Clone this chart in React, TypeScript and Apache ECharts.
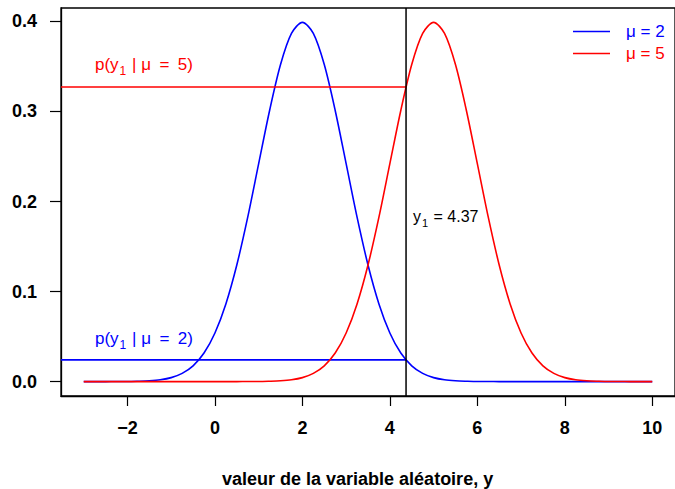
import React, { useEffect, useRef } from "react";
import * as echarts from "echarts";

const FONT = "'Liberation Sans', Arial, Helvetica, sans-serif";

// x positions of the drawn density curves
const xValues = [
  -3, -2.75, -2.5, -2.25, -2, -1.75, -1.5, -1.25, -1, -0.75, -0.5, -0.25,
  0, 0.25, 0.5, 0.75, 1, 1.25, 1.5, 1.75, 2, 2.25, 2.5, 2.75, 3, 3.25, 3.5,
  3.75, 4, 4.25, 4.5, 4.75, 5, 5.25, 5.5, 5.75, 6, 6.25, 6.5, 6.75, 7, 7.25,
  7.5, 7.75, 8, 8.25, 8.5, 8.75, 9, 9.25, 9.5, 9.75, 10,
];

// density for mu = 2 (blue)
const densityMu2 = [
  0, 0, 0, 0.0001, 0.0001, 0.0004, 0.0009, 0.002, 0.0044, 0.0091, 0.0175,
  0.0317, 0.054, 0.0863, 0.1295, 0.1826, 0.242, 0.3011, 0.3521, 0.3867,
  0.3989, 0.3867, 0.3521, 0.3011, 0.242, 0.1826, 0.1295, 0.0863, 0.054,
  0.0317, 0.0175, 0.0091, 0.0044, 0.002, 0.0009, 0.0004, 0.0001, 0.0001,
  0, 0, 0, 0, 0, 0, 0, 0, 0, 0, 0, 0, 0, 0, 0,
];

// density for mu = 5 (red)
const densityMu5 = [
  0, 0, 0, 0, 0, 0, 0, 0, 0, 0, 0, 0, 0, 0, 0, 0.0001, 0.0001, 0.0004,
  0.0009, 0.002, 0.0044, 0.0091, 0.0175, 0.0317, 0.054, 0.0863, 0.1295,
  0.1826, 0.242, 0.3011, 0.3521, 0.3867, 0.3989, 0.3867, 0.3521, 0.3011,
  0.242, 0.1826, 0.1295, 0.0863, 0.054, 0.0317, 0.0175, 0.0091, 0.0044,
  0.002, 0.0009, 0.0004, 0.0001, 0.0001, 0, 0, 0,
];

const observedY = 4.37;
const pGivenMu2 = 0.0241;
const pGivenMu5 = 0.3271;

const xTicks = [-2, 0, 2, 4, 6, 8, 10];
const yTicks = [0, 0.1, 0.2, 0.3, 0.4];

const legendNames = ["\u03bc = 2", "\u03bc = 5"];

const X_MIN = -3.52;
const X_MAX = 10.52;
const Y_MIN = -0.016;
const Y_MAX = 0.4149;

const BLUE = "#0000FF";
const RED = "#FF0000";

const sub = (pre: string, post: string) => `{a|${pre}}{s|1}{a|${post}}`;

export default function App() {
  const ref = useRef<HTMLDivElement>(null);

  useEffect(() => {
    if (!ref.current) return;
    const chart = echarts.init(ref.current, undefined, { renderer: "svg" });

    const curve = (ys: number[]) => xValues.map((x, i) => [x, ys[i]]);

    const richFor = (color: string, size: number) => ({
      a: { fontSize: size, fontFamily: FONT, color },
      s: {
        fontSize: Math.round(size * 0.7),
        fontFamily: FONT,
        color,
        verticalAlign: "bottom",
        padding: [0, 1, -4, 1],
      },
    });

    const option: any = {
      animation: false,
      textStyle: { fontFamily: FONT },
      grid: {
        left: 61,
        top: 8,
        width: 620,
        height: 388,
        show: true,
        borderColor: "#000",
        borderWidth: 1.3,
      },
      xAxis: {
        type: "value",
        min: X_MIN,
        max: X_MAX,
        axisLine: { show: true, onZero: false, lineStyle: { color: "#000", width: 1.3 } },
        axisTick: {
          show: true,
          length: 10,
          customValues: xTicks,
          lineStyle: { color: "#000", width: 1.2 },
        },
        axisLabel: {
          customValues: xTicks,
          formatter: (v: number) => String(v).replace("-", "\u2212"),
          fontSize: 18,
          fontWeight: "bold",
          color: "#000",
          fontFamily: FONT,
          margin: 23,
        },
        splitLine: { show: false },
      },
      yAxis: {
        type: "value",
        min: Y_MIN,
        max: Y_MAX,
        axisLine: { show: true, onZero: false, lineStyle: { color: "#000", width: 1.3 } },
        axisTick: {
          show: true,
          length: 11,
          customValues: yTicks,
          lineStyle: { color: "#000", width: 1.2 },
        },
        axisLabel: {
          customValues: yTicks,
          formatter: (v: number) => v.toFixed(1),
          fontSize: 18,
          fontWeight: "bold",
          color: "#000",
          fontFamily: FONT,
          margin: 24,
        },
        splitLine: { show: false },
      },
      legend: {
        left: 573,
        top: 22,
        padding: 0,
        orient: "vertical",
        icon: "rect",
        itemWidth: 37,
        itemHeight: 1.6,
        itemGap: 3,
        textStyle: { fontSize: 17, fontFamily: FONT, lineHeight: 19, padding: [0, 0, 0, 11] },
        data: [
          { name: legendNames[0], textStyle: { color: BLUE } },
          { name: legendNames[1], textStyle: { color: RED } },
        ],
      },
      series: [
        {
          name: legendNames[0],
          type: "line",
          data: curve(densityMu2),
          symbol: "none",
          smooth: 0.3,
          lineStyle: { color: BLUE, width: 1.6 },
          itemStyle: { color: BLUE },
          z: 3,
        },
        {
          name: legendNames[1],
          type: "line",
          data: curve(densityMu5),
          symbol: "none",
          smooth: 0.3,
          lineStyle: { color: RED, width: 1.6 },
          itemStyle: { color: RED },
          z: 4,
        },
        {
          name: "p mu2",
          type: "line",
          data: [
            [X_MIN, pGivenMu2],
            [observedY, pGivenMu2],
          ],
          symbol: "none",
          lineStyle: { color: BLUE, width: 1.6 },
          z: 3,
        },
        {
          name: "p mu5",
          type: "line",
          data: [
            [X_MIN, pGivenMu5],
            [observedY, pGivenMu5],
          ],
          symbol: "none",
          lineStyle: { color: RED, width: 1.6 },
          z: 3,
        },
        {
          name: "y1",
          type: "line",
          data: [
            [observedY, Y_MIN],
            [observedY, Y_MAX],
          ],
          symbol: "none",
          lineStyle: { color: "#000", width: 1.5 },
          z: 5,
        },
      ],
      graphic: [
        {
          type: "text",
          left: 95,
          top: 56,
          style: { text: sub("p(y", " | \u03bc\u2002=\u20025)"), rich: richFor(RED, 17), fill: RED },
        },
        {
          type: "text",
          left: 95,
          top: 330,
          style: { text: sub("p(y", " | \u03bc\u2002=\u20022)"), rich: richFor(BLUE, 17), fill: BLUE },
        },
        {
          type: "text",
          left: 413,
          top: 208,
          style: { text: sub("y", " = 4.37"), rich: richFor("#000", 16), fill: "#000" },
        },
        {
          type: "text",
          left: 222,
          top: 470,
          style: {
            text: "valeur de la variable aléatoire, y",
            font: `bold 18px ${FONT}`,
            fill: "#000",
          },
        },
      ],
    };

    chart.setOption(option);
    return () => chart.dispose();
  }, []);

  return (
    <div
      ref={ref}
      style={{ position: "absolute", left: 0, top: 0, width: 675, height: 489 }}
    />
  );
}
